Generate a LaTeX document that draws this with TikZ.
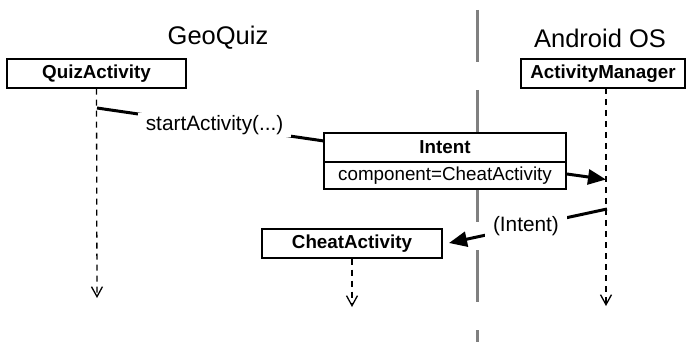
\documentclass[tikz,border=0pt]{standalone}
\usepackage{fontspec}
\setmainfont{Liberation Sans}
\usetikzlibrary{arrows.meta}
\begin{document}
\begin{tikzpicture}[x=1pt,y=-1pt,
  objbox/.style={draw,line width=1.3pt,fill=white,inner sep=0pt,font=\fontsize{18.8}{22}\selectfont\bfseries},
  lifeline/.style={line width=1.3pt,dash pattern=on 6pt off 5pt,-{Straight Barb[length=10pt,width=11pt,line width=1.3pt]}},
  msg/.style={line width=3pt},
  msgarrow/.style={line width=3pt,-{Triangle[length=18pt,width=15pt]}},
  msglabel/.style={fill=white,inner xsep=8pt,inner ysep=2pt,font=\fontsize{20.8}{24}\selectfont},
  title/.style={font=\fontsize{25.5}{30}\selectfont},
  boundary/.style={line width=3pt,draw=black!50,dash pattern=on 52pt off 28pt}]
\useasboundingbox (0,0) rectangle (686,342);
% boundary
\draw[boundary] (477,10) -- (477,342);
% titles
\node[title] (geo) at (218,38) {GeoQuiz};
\node[title] (os) at (600,38) {Android OS};
% objects
\node[objbox,minimum width=179pt,minimum height=29pt] (qa) at (96.5,73.5) {QuizActivity};
\node[objbox,minimum width=164pt,minimum height=29pt] (am) at (603,73.5) {ActivityManager};
\node[objbox,minimum width=180pt,minimum height=29pt] (ca) at (352,243.5) {CheatActivity};
\node[objbox,minimum width=242pt,minimum height=29pt] (ih) at (445,147.5) {Intent};
\node[objbox,font=\fontsize{18.8}{22}\selectfont,minimum width=242pt,minimum height=27pt] (ib) at (445,175.5) {component=CheatActivity};
% lifeline end points
\coordinate (qaend) at (97,298);
\coordinate (amtop) at (606,88);
\coordinate (amend) at (606,306);
\coordinate (caend) at (352,307);
\draw[lifeline] (qa.south) -- (qaend);
\draw[lifeline] (amtop) -- (amend);
\draw[lifeline] (ca.south) -- (caend);
% messages
\coordinate (m1a) at (97,108);
\coordinate (m1b) at (324,141);
\draw[msg] (m1a) -- node[msglabel,pos=0.518] (l1) {startActivity(...)} (m1b);
\coordinate (m2a) at (567,174);
\coordinate (m2b) at (606,179.5);
\draw[msgarrow] (m2a) -- (m2b);
\coordinate (m3a) at (607,209);
\coordinate (m3b) at (449,243);
\draw[msgarrow] (m3a) -- node[msglabel,pos=0.513] (l3) {(Intent)} (m3b);
\end{tikzpicture}
\end{document}
